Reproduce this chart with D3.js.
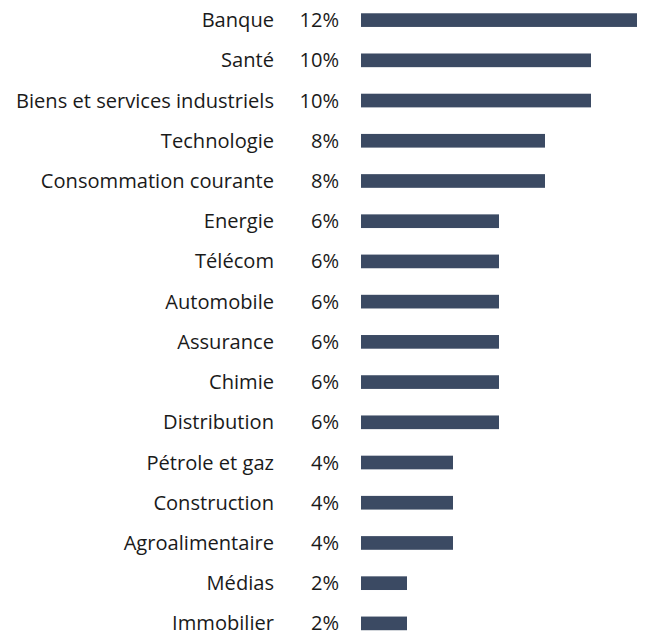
<!DOCTYPE html>
<html lang="fr">
<head>
<meta charset="UTF-8">
<script src="https://d3js.org/d3.v7.min.js"></script>
<style>
  body { margin: 0; background: #fff; font-family: "Open Sans", sans-serif; }
  .label { font-size: 20.1px; fill: #1a1a1a; }
</style>
</head>
<body>
<svg id="chart" width="646" height="637"></svg>
<script>
// Secteurs et poids (%)
const categories = ["Banque", "Santé", "Biens et services industriels", "Technologie",
  "Consommation courante", "Energie", "Télécom", "Automobile", "Assurance", "Chimie",
  "Distribution", "Pétrole et gaz", "Construction", "Agroalimentaire", "Médias", "Immobilier"];
const values = [12, 10, 10, 8, 8, 6, 6, 6, 6, 6, 6, 4, 4, 4, 2, 2];

const svg = d3.select("#chart");
const barLeft = 361;

const x = d3.scaleLinear().domain([0, 12]).range([barLeft, 637]);
const y = d3.scaleBand().domain(categories).range([0, 643.5]).paddingInner(0.66).paddingOuter(0.33);

const rows = svg.selectAll("g.row")
  .data(categories)
  .enter().append("g")
  .attr("class", "row")
  .attr("transform", d => `translate(0,${y(d) + y.bandwidth() / 2})`);

rows.append("rect")
  .attr("x", x(0))
  .attr("y", -y.bandwidth() / 2)
  .attr("width", (d, i) => x(values[i]) - x(0))
  .attr("height", y.bandwidth())
  .attr("fill", "#3b4a63");

rows.append("text")
  .attr("class", "label")
  .attr("x", 274)
  .attr("dy", "0.35em")
  .attr("text-anchor", "end")
  .text(d => d);

rows.append("text")
  .attr("class", "label")
  .attr("x", 339)
  .attr("dy", "0.35em")
  .attr("text-anchor", "end")
  .text((d, i) => values[i] + "%");
</script>
</body>
</html>
